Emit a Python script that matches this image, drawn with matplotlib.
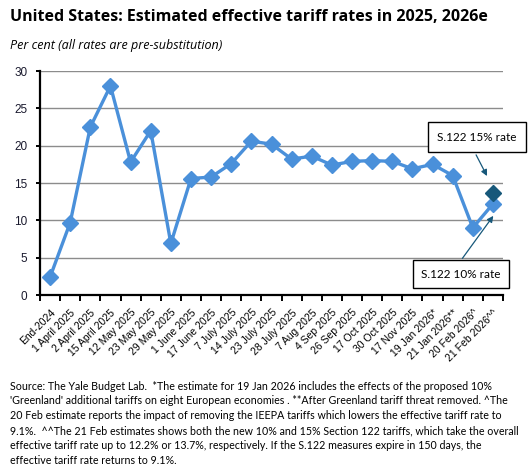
import matplotlib
matplotlib.use("Agg")
import matplotlib.pyplot as plt
import numpy as np

categories = ["End-2024", "1 April 2025", "2 April 2025", "15 April 2025", "12 May 2025",
              "23 May 2025", "29 May 2025", "1 June 2025", "17 June 2025", "7 July 2025",
              "14 July 2025", "23 July 2025", "28 July 2025", "7 Aug 2025", "4 Sep 2025",
              "26 Sep 2025", "17 Oct 2025", "30 Oct 2025", "17 Nov 2025", "19 Jan 2026*",
              "21 Jan 2026**", "20 Feb 2026^", "21 Feb 2026^^"]
rates = [2.4, 9.7, 22.5, 28.0, 17.8, 22.0, 6.9, 15.6, 15.8, 17.6, 20.6, 20.2, 18.2, 18.6,
         17.4, 17.9, 18.0, 17.9, 16.9, 17.5, 16.0, 9.0, 12.2]
s122_15_rate = 13.7
yticks = [0, 5, 10, 15, 20, 25, 30]

title = "United States: Estimated effective tariff rates in 2025, 2026e"
subtitle = "Per cent (all rates are pre-substitution)"
footer = [
    "Source: The Yale Budget Lab.  *The estimate for 19 Jan 2026 includes the effects of the proposed 10%",
    "'Greenland' additional tariffs on eight European economies . **After Greenland tariff threat removed. ^The",
    "20 Feb estimate reports the impact of removing the IEEPA tariffs which lowers the effective tariff rate to",
    "9.1%.  ^^The 21 Feb estimates shows both the new 10% and 15% Section 122 tariffs, which take the overall",
    "effective tariff rate up to 12.2% or 13.7%, respectively. If the S.122 measures expire in 150 days, the",
    "effective tariff rate returns to 9.1%.",
]

W, H = 532, 474
fig = plt.figure(figsize=(W / 100, H / 100), dpi=100)
ax = fig.add_axes([40 / W, 1 - 295 / H, 463 / W, 224 / H])

blue = "#4A90DA"
dark = "#17587A"
x = np.arange(len(categories))
ax.plot(x, rates, color=blue, lw=2.4, marker="D", ms=8.5, mec=blue, mfc=blue, zorder=3)
ax.plot([x[-1]], [s122_15_rate], marker="D", ms=8.5, color=dark, ls="none", zorder=4)

ax.set_xlim(-0.5, len(categories) - 0.5)
ax.set_ylim(0, 30)
ax.set_yticks(yticks)
ax.yaxis.grid(True, color="#8c8c8c", lw=1)
ax.set_axisbelow(True)
for s in ["top", "right"]:
    ax.spines[s].set_visible(False)
for s in ["left", "bottom"]:
    ax.spines[s].set_linewidth(1.6)
    ax.spines[s].set_color("black")

ax.set_xticks(x)
ax.set_xticklabels(categories, rotation=45, ha="right", rotation_mode="anchor",
                   fontsize=7.5, family="Liberation Sans")
ax.tick_params(axis="x", which="major", length=0, pad=9)
ax.set_xticks(np.arange(-0.5, len(categories) + 0.5, 1), minor=True)
ax.tick_params(axis="x", which="minor", length=4, width=1.4, direction="out")
ax.tick_params(axis="y", length=3, width=1.4, direction="out", labelsize=8.5, pad=6)
for lab in ax.get_yticklabels():
    lab.set_family("Liberation Sans")
    lab.set_color("#1a1a2e")

# annotations
ax.annotate("", xy=(21.77, 15.6), xytext=(21.1, 19.1),
            arrowprops=dict(arrowstyle="-|>", color=dark, lw=0.9, mutation_scale=9))
ax.annotate("", xy=(22.1, 10.9), xytext=(20.4, 4.6),
            arrowprops=dict(arrowstyle="-|>", color=dark, lw=0.9, mutation_scale=9))
ax.text(21.2, 21.15, "S.122 15% rate", ha="center", va="center", fontsize=8.5, family="Lato",
        bbox=dict(boxstyle="square,pad=0.8", fc="white", ec="black", lw=1), zorder=5)
ax.text(20.4, 2.8, "S.122 10% rate", ha="center", va="center", fontsize=8.5, family="Lato",
        bbox=dict(boxstyle="square,pad=0.7", fc="white", ec="black", lw=1), zorder=5, clip_on=False)

fig.text(10 / W, 1 - 17 / H, title, fontsize=11.5, fontweight="bold", family="Open Sans",
         va="center", ha="left")
fig.text(10 / W, 1 - 45 / H, subtitle, fontsize=9, style="italic", family="Open Sans",
         va="center", ha="left")
for i, line in enumerate(footer):
    fig.text(10 / W, 1 - (386 + 14.9 * i) / H, line, fontsize=7.65, family="Lato",
             va="center", ha="left")

fig.savefig("out.png", dpi=100)
